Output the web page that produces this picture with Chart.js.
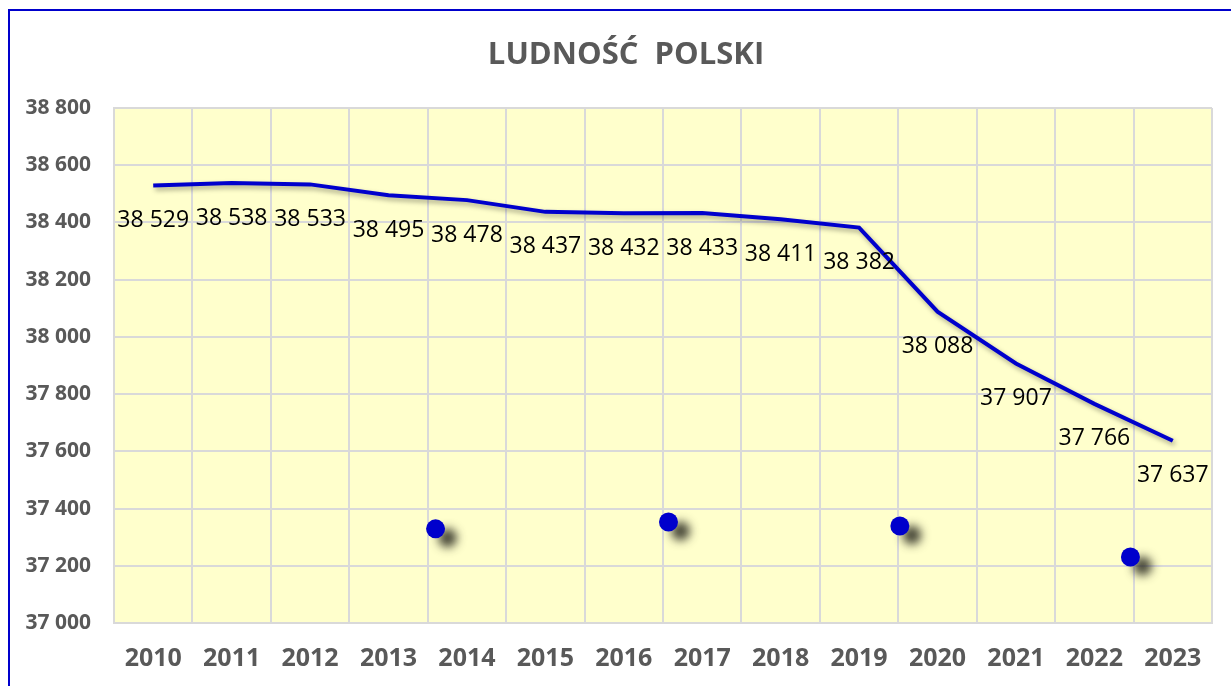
<!DOCTYPE html>
<html>
<head>
<meta charset="utf-8">
<script src="https://cdn.jsdelivr.net/npm/chart.js@4"></script>
<style>
    body { margin: 0; background: #fff; }
    #wrap { position: relative; width: 1231px; height: 686px; }
    #frame { position: absolute; left: 8px; top: 9px; right: -2px; bottom: -2px; border-left: 2px solid #0000cc; border-top: 2px solid #0000cc; }
    canvas { position: absolute; left: 0; top: 0; }
</style>
</head>
<body>
<div id="wrap">
    <div id="frame"></div>
    <canvas id="popChart" width="1231" height="686"></canvas>
</div>
<script>
const years = ['2010', '2011', '2012', '2013', '2014', '2015', '2016', '2017', '2018', '2019', '2020', '2021', '2022', '2023'];
const population = [38529, 38538, 38533, 38495, 38478, 38437, 38432, 38433, 38411, 38382, 38088, 37907, 37766, 37637];
// decorative blue dots (position in category units, value)
const dotX = [3.6, 6.57, 9.52, 12.46];
const dotY = [37329, 37353, 37339, 37231];
const yMin = 37000, yMax = 38800, yStep = 200;

function fmt(v) {
    return String(v).replace(/\B(?=(\d{3})+(?!\d))/g, ' ');
}

const textGray = '#595959';
const gridGray = '#d9d9d9';

const plotBg = {
    id: 'plotBg',
    beforeDraw(chart) {
        const { ctx, chartArea: a } = chart;
        ctx.save();
        ctx.fillStyle = '#ffffcc';
        ctx.fillRect(a.left, a.top, a.right - a.left, a.bottom - a.top);
        ctx.restore();
    }
};

const shadows = {
    id: 'shadows',
    beforeDatasetDraw(chart, args) {
        const ctx = chart.ctx;
        ctx.save();
        if (args.index === 0) {
            ctx.shadowColor = 'rgba(0,0,0,0.35)';
            ctx.shadowBlur = 5;
            ctx.shadowOffsetX = 2;
            ctx.shadowOffsetY = 3;
        } else {
            ctx.shadowColor = 'rgba(40,40,30,0.85)';
            ctx.shadowBlur = 10;
            ctx.shadowOffsetX = 12;
            ctx.shadowOffsetY = 9;
        }
    },
    afterDatasetDraw(chart) {
        chart.ctx.restore();
    }
};

const valueLabels = {
    id: 'valueLabels',
    afterDatasetsDraw(chart) {
        const ctx = chart.ctx;
        const meta = chart.getDatasetMeta(0);
        ctx.save();
        ctx.font = '23px "Open Sans"';
        ctx.fillStyle = '#000';
        ctx.textAlign = 'center';
        ctx.textBaseline = 'middle';
        meta.data.forEach((pt, i) => {
            ctx.fillText(fmt(population[i]), pt.x, pt.y + 35);
        });
        ctx.restore();
    }
};

const titleText = {
    id: 'titleText',
    afterDraw(chart) {
        const ctx = chart.ctx;
        ctx.save();
        ctx.font = 'bold 31px "Open Sans"';
        ctx.fillStyle = textGray;
        ctx.textAlign = 'center';
        ctx.textBaseline = 'middle';
        ctx.fillText('LUDNOŚĆ  POLSKI', 626, 55);
        ctx.restore();
    }
};

new Chart(document.getElementById('popChart'), {
    type: 'line',
    data: {
        labels: years,
        datasets: [{
            data: population,
            borderColor: '#0000cc',
            borderWidth: 4,
            pointRadius: 0,
            tension: 0,
            xAxisID: 'x',
            yAxisID: 'y'
        }, {
            type: 'scatter',
            data: dotX.map((x, i) => ({ x: x, y: dotY[i] })),
            backgroundColor: '#0000cc',
            borderWidth: 0,
            pointRadius: 9.5,
            showLine: false,
            xAxisID: 'x2',
            yAxisID: 'y'
        }]
    },
    options: {
        responsive: false,
        animation: false,
        layout: { padding: { top: 108, right: 19, left: 0, bottom: 0 } },
        plugins: {
            legend: { display: false },
            tooltip: { enabled: false }
        },
        scales: {
            x: {
                type: 'category',
                offset: true,
                grid: { offset: true, color: gridGray, lineWidth: 2, drawTicks: false },
                border: { color: gridGray, width: 2 },
                ticks: { color: textGray, font: { family: 'Open Sans', size: 25, weight: 'bold' }, padding: 21, maxRotation: 0 },
                afterFit(scale) { scale.height = 63; }
            },
            x2: {
                type: 'linear',
                min: -0.5,
                max: years.length - 0.5,
                display: false
            },
            y: {
                min: yMin,
                max: yMax,
                grid: { color: gridGray, lineWidth: 2, drawTicks: false },
                border: { color: gridGray, width: 2 },
                ticks: {
                    stepSize: yStep,
                    color: textGray,
                    font: { family: 'Open Sans', size: 21, weight: 'bold' },
                    padding: 23,
                    callback: v => fmt(v)
                },
                afterFit(scale) { scale.width = 114; }
            }
        }
    },
    plugins: [plotBg, shadows, valueLabels, titleText]
});
</script>
</body>
</html>
